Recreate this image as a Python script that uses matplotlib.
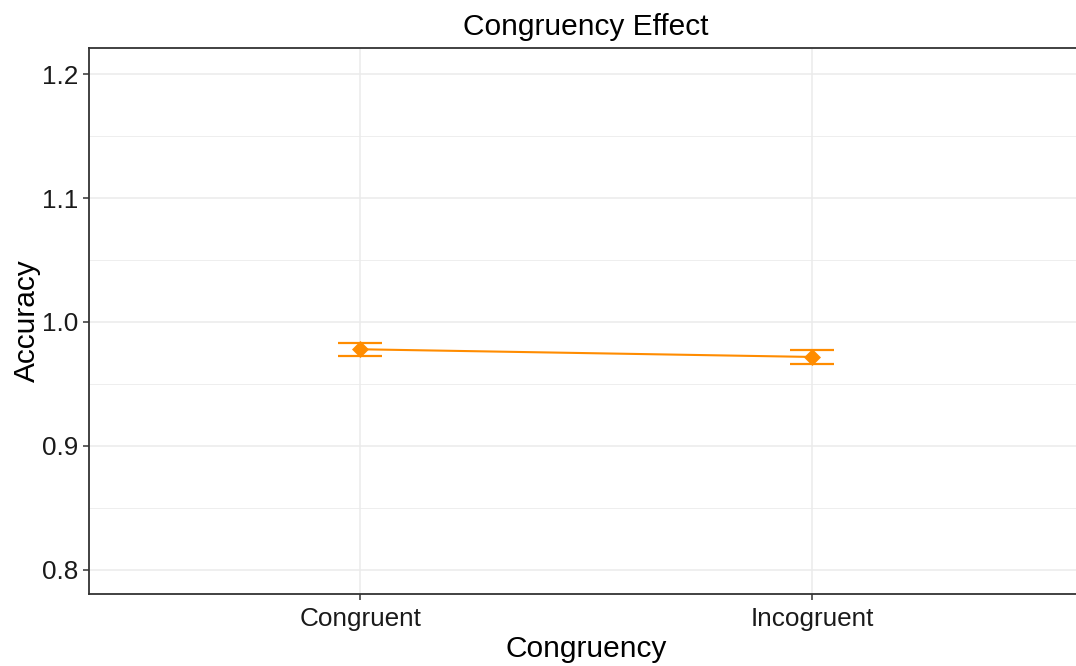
import matplotlib
matplotlib.use("Agg")
import matplotlib.pyplot as plt
from matplotlib.ticker import MultipleLocator

plt.rcParams['font.family'] = ['Liberation Sans', 'DejaVu Sans']

# mean accuracy per condition with standard errors
conditions = ["Congruent", "Incogruent"]
accuracy = [0.978, 0.9718]
se = [0.0052, 0.0057]

orange = "#FF8C00"
grid_col = "#EBEBEB"

fig = plt.figure(figsize=(10.76, 6.66), dpi=100)
# panel runs slightly past the right edge of the canvas
ax = fig.add_axes([89 / 1076, 1 - 594 / 666, 994 / 1076, 546 / 666])

x = list(range(1, len(conditions) + 1))

ax.plot(x, accuracy, color=orange, lw=1.5, zorder=3)
ax.errorbar(x, accuracy, yerr=se, fmt="none", ecolor=orange, elinewidth=1.6,
            capsize=15.8, capthick=1.6, zorder=3)
ax.scatter(x, accuracy, marker="D", s=75, color=orange, zorder=4, linewidths=0)

ax.set_xlim(0.4, 2.6)
ax.set_ylim(0.7806, 1.221)
ax.set_xticks(x)
ax.set_xticklabels(conditions)
ax.yaxis.set_major_locator(MultipleLocator(0.1))
ax.yaxis.set_minor_locator(MultipleLocator(0.05))

ax.grid(which="major", color=grid_col, lw=1.1, zorder=0)
ax.grid(which="minor", axis="y", color=grid_col, lw=0.6, zorder=0)
ax.set_axisbelow(True)

for sp in ax.spines.values():
    sp.set_color("#333333")
    sp.set_linewidth(1.3)

ax.tick_params(axis="both", which="major", length=4.5, width=1.1, color="#333333",
               labelsize=18.8, labelcolor="#1a1a1a", pad=3)
ax.tick_params(axis="x", which="major", pad=5)
ax.tick_params(axis="y", which="minor", length=0)

ax.set_title("Congruency Effect", fontsize=21.5, pad=9.5)
ax.set_xlabel("Congruency", fontsize=21.5, labelpad=3)
ax.set_ylabel("Accuracy", fontsize=21.5, labelpad=1)

fig.savefig("out.png", dpi=100)
